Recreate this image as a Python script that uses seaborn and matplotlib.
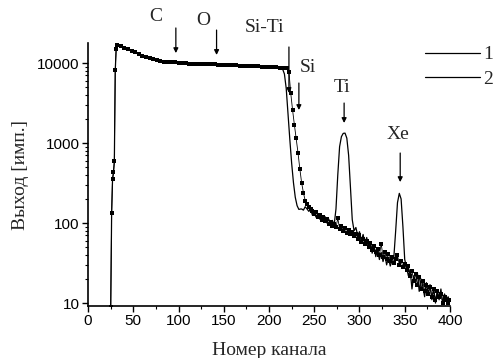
import matplotlib
matplotlib.use("Agg")
import matplotlib.pyplot as plt
import seaborn as sns
import pandas as pd
from matplotlib.lines import Line2D
from matplotlib.ticker import MultipleLocator, LogLocator, NullFormatter, FixedLocator, FixedFormatter

# кривая 1 (точки): номер канала и выход
ch1 = [25, 26, 27, 28, 29, 30, 31, 32, 36, 40, 44, 48, 52, 56, 60, 64, 68, 72, 76, 80,
       84, 88, 92, 96, 100, 104, 108, 112, 116, 120, 124, 128, 132, 136, 140, 144, 148,
       152, 156, 160, 164, 168, 172, 176, 180, 184, 188, 192, 196, 200, 204, 208, 212,
       216, 220, 222, 224, 226, 228, 230, 232, 234, 236, 238, 240, 242,
       244, 246, 248, 250, 252, 254, 256, 258, 260, 262, 264, 266, 268, 270, 272, 274,
       276, 278, 280, 282, 284, 286, 288, 290, 292, 294, 296, 298, 300, 302, 304, 306,
       308, 310, 312, 314, 316, 318, 320, 322, 324, 326, 328, 330, 332, 334, 336, 338,
       340, 342, 344, 346, 348, 350, 352, 354, 356, 358, 360, 362, 364, 366, 368, 370,
       372, 374, 376, 378, 380, 382, 384, 386, 388, 390, 392, 394, 396, 398, 400]
y1 = [9, 135, 360, 430, 600, 8200, 15000, 16800, 16100, 15400, 14800, 14200, 13600, 13000,
      12400, 11900, 11500, 11100, 10800, 10600, 10400, 10250, 10150, 10300, 10050, 9950,
      9900, 9850, 9800, 9750, 9700, 9650, 9600, 9580, 9700, 9520, 9480, 9440, 9400, 9360,
      9320, 9280, 9240, 9200, 9150, 9100, 9050, 9000, 8950, 8900, 8850, 8800, 8750, 8700,
      8550, 7800, 4200, 2600, 1700, 1150, 760, 480, 320, 240, 190, 172,
      160, 150, 140, 128, 138, 120, 126, 110, 118, 105, 112, 96, 104, 92, 98, 88,
      115, 85, 92, 80, 86, 76, 82, 72, 78, 68, 74, 64, 70, 58, 64, 54,
      60, 50, 56, 46, 52, 43, 48, 40, 55, 38, 44, 36, 41, 34, 38, 32,
      36, 40, 30, 34, 28, 31, 26, 29, 22, 25, 19, 23, 17, 21, 15, 19,
      14, 17, 13, 16, 12, 15, 11, 14, 12, 13, 10, 12, 11, 10, 11]

# кривая 2 (линия)
ch2 = [25, 26, 27, 28, 29, 30, 31, 32, 40, 48, 56, 64, 72, 80, 88, 96, 104, 112, 120, 128,
       136, 142, 150, 158, 166, 174, 182, 190, 198, 206, 212, 215, 217, 219, 221, 223,
       225, 227, 229, 231, 233, 235,
       236, 238, 240, 242, 244, 246, 248, 250, 252, 254, 256, 258, 260, 262, 264, 266,
       268, 270, 272, 274, 276, 278, 280, 282, 284, 286, 288, 290, 292, 294, 296, 298,
       300, 302, 304, 306, 308, 310, 312, 314, 316, 318, 320, 322, 324, 326, 328, 330,
       332, 334, 336, 338, 340, 342, 344, 346, 348, 350, 352, 354, 356, 358, 360, 362,
       364, 366, 368, 370, 372, 374, 376, 378, 380, 382, 384, 386, 388, 390, 392, 394,
       396, 398, 400]
y2 = [9, 130, 350, 420, 580, 8000, 14800, 16700, 15300, 14100, 12900, 11800, 11000, 10500,
      10200, 10250, 9900, 9800, 9700, 9600, 9520, 9650, 9420, 9340, 9260, 9180, 9100, 9000,
      8900, 8780, 8650, 8400, 7300, 4800, 2300, 1100, 560, 320, 210, 165, 148, 150,
      150, 145, 160, 150, 140, 148, 125, 135, 118, 130, 112, 125, 105, 120, 100, 112,
      98, 108, 95, 150, 400, 900, 1200, 1320, 1330, 1150, 700, 280, 110, 80, 88, 70,
      78, 60, 72, 55, 66, 48, 58, 42, 52, 38, 47, 35, 43, 33, 40, 30,
      37, 29, 34, 38, 80, 180, 235, 200, 90, 35, 28, 22, 26, 15, 22, 18,
      24, 14, 20, 16, 12, 18, 13, 17, 11, 15, 10, 14, 11, 15, 10, 13,
      11, 12, 10]

# подписи пиков: (текст, канал подписи, выход подписи, канал стрелки, начало, конец стрелки)
peak_labels = ["C", "O", "Si-Ti", "Si", "Ti", "Xe"]
label_ch = [75, 127, 195, 243, 281, 343]
label_y = [37600, 33500, 27400, 8900, 5000, 1296]
arrow_ch = [97, 142, 222, 233, 283, 345]
arrow_from = [27400, 25800, 15850, 5620, 3160, 750]
arrow_to = [13300, 12600, 4220, 2585, 1780, 325]

df1 = pd.DataFrame({"ch": ch1, "y": y1})
df2 = pd.DataFrame({"ch": ch2, "y": y2})

sns.set_style("ticks")
plt.rcParams["font.family"] = ["Liberation Sans", "DejaVu Sans"]

fig = plt.figure(figsize=(4.95, 3.58), dpi=100)
ax = fig.add_axes([0.178, 0.145, 0.731, 0.735])

sns.lineplot(data=df2, x="ch", y="y", ax=ax, color="black", lw=0.9, estimator=None, sort=False)
sns.lineplot(data=df1, x="ch", y="y", ax=ax, color="black", lw=0.6, estimator=None, sort=False,
             marker="s", markersize=2.3, markeredgewidth=0)

ax.set_yscale("log")
ax.set_xlim(0, 400)
ax.set_ylim(9.17, 17800)

ax.xaxis.set_major_locator(MultipleLocator(50))
ax.xaxis.set_minor_locator(MultipleLocator(25))
ax.yaxis.set_major_locator(FixedLocator([10, 100, 1000, 10000]))
ax.yaxis.set_major_formatter(FixedFormatter(["10", "100", "1000", "10000"]))
ax.yaxis.set_minor_locator(LogLocator(base=10, subs=range(2, 10)))
ax.yaxis.set_minor_formatter(NullFormatter())
ax.tick_params(which="major", direction="out", length=4, width=1, labelsize=11, colors="black", pad=2)
ax.tick_params(which="minor", direction="out", length=2.5, width=0.8, colors="black")

for s in ["top", "right"]:
    ax.spines[s].set_visible(False)
for s in ["left", "bottom"]:
    ax.spines[s].set_linewidth(1.2)
    ax.spines[s].set_color("black")

serif = ["Liberation Serif", "DejaVu Serif"]
ax.set_xlabel("Номер канала", family=serif, fontsize=14, labelpad=10)
ax.set_ylabel("Выход [имп.]", family=serif, fontsize=14, labelpad=6)

for t, lx, ly, ax_, a0, a1 in zip(peak_labels, label_ch, label_y, arrow_ch, arrow_from, arrow_to):
    ax.text(lx, ly, t, family=serif, fontsize=14, ha="center", va="center", clip_on=False)
    ax.annotate("", xy=(ax_, a1), xytext=(ax_, a0), annotation_clip=False,
                arrowprops=dict(arrowstyle="-|>", color="black", lw=0.9,
                                mutation_scale=7, shrinkA=0, shrinkB=0))

handles = [Line2D([], [], color="black", lw=0.9), Line2D([], [], color="black", lw=0.9)]
leg = fig.legend(handles, ["1", "2"], loc="upper left", bbox_to_anchor=(0.859, 0.872),
                 frameon=False, handlelength=2.8, handletextpad=0.2, labelspacing=0.35,
                 borderpad=0, borderaxespad=0, prop={"family": serif, "size": 14})

fig.savefig("out.png", dpi=100)
